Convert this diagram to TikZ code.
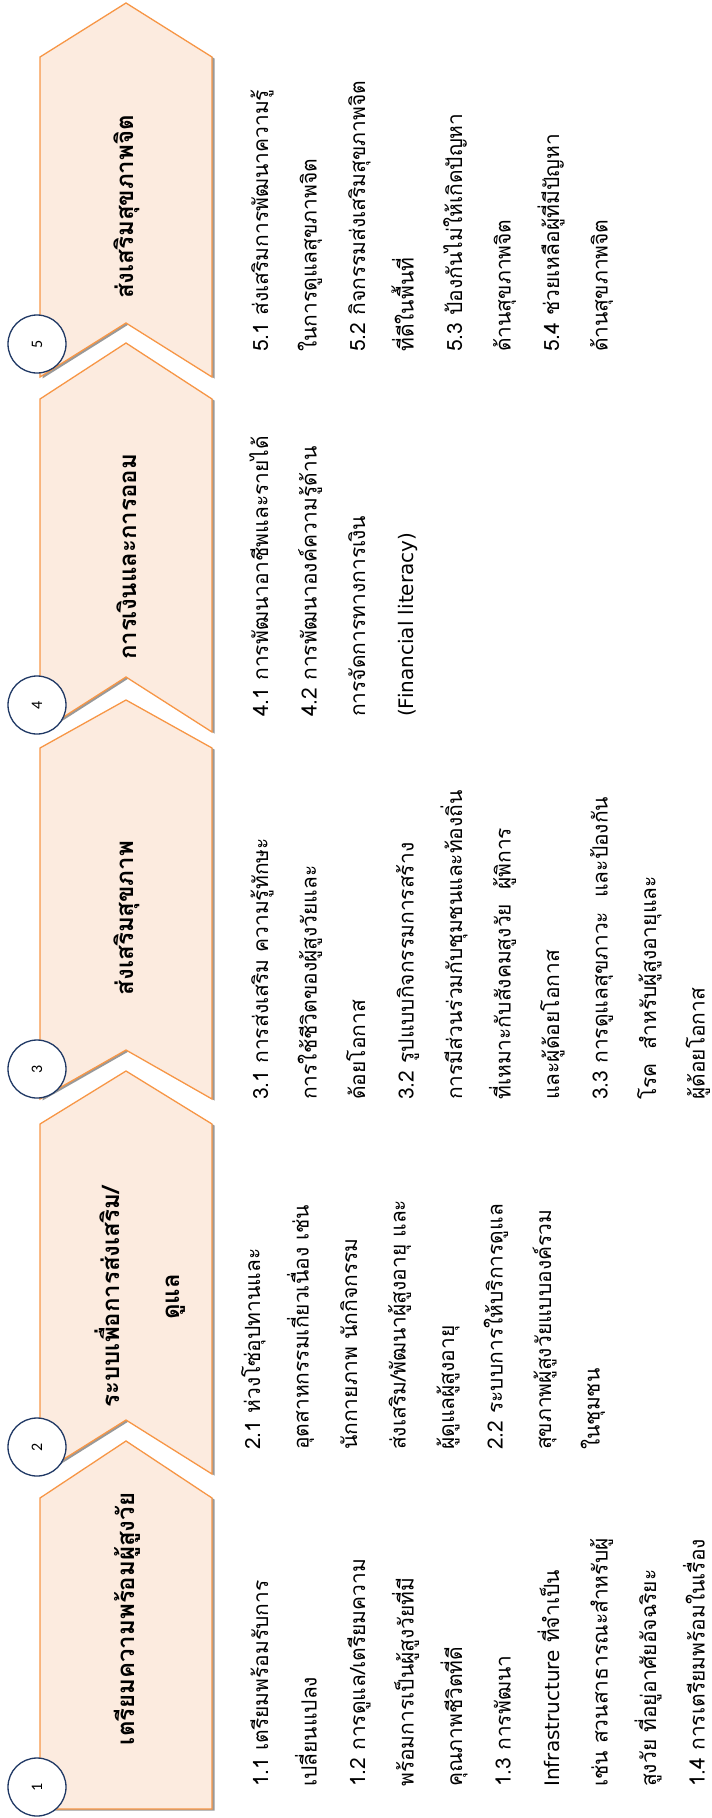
\documentclass[tikz,border=0pt]{standalone}
\usepackage{fontspec}
\newfontfamily\thai[Script=Thai]{Loma}
\newfontfamily\numfont{Carlito}
\newfontfamily\latfont{DejaVu Sans}
\newcommand{\lat}[1]{{\latfont\fontsize{20}{26}\selectfont #1}}
\definecolor{bfill}{HTML}{FCEBDF}
\definecolor{bline}{HTML}{F79646}
\definecolor{cnavy}{HTML}{1F3864}
\begin{document}
\begin{tikzpicture}[x=1pt,y=-1pt,
  banner/.style={fill=bfill, draw=bline, line width=1.3pt, line join=miter},
  shade/.style={fill=black!40, draw=none},
  num/.style={circle, draw=cnavy, line width=1.3pt, fill=white, minimum size=58pt, inner sep=0pt, font=\numfont\fontsize{16}{16}\selectfont, rotate=90},
  ttl/.style={rotate=90, inner sep=0pt, font=\thai\bfseries\fontsize{24}{60}\selectfont, align=center},
  item/.style={rotate=90, anchor=base west, inner sep=0pt, font=\thai\fontsize{21}{26}\selectfont}]
\useasboundingbox (0,0) rectangle (712,1818);
% shadows
\begin{scope}[shift={(2.5,1.5)}]
\fill[shade] (40,1809) -- (212,1809) -- (212,1498) -- (126,1441) -- (40,1498) -- cycle;
\fill[shade] (40,1474) -- (126,1420) -- (212,1474) -- (212,1124) -- (126,1071) -- (40,1124) -- cycle;
\fill[shade] (40,1099) -- (126,1050) -- (212,1099) -- (212,748) -- (126,700) -- (40,748) -- cycle;
\fill[shade] (40,732) -- (126,677) -- (212,732) -- (212,399) -- (126,343) -- (40,399) -- cycle;
\fill[shade] (40,377) -- (126,323) -- (212,377) -- (212,57) -- (126,3) -- (40,57) -- cycle;
\end{scope}
% banners
\draw[banner] (40,1809) -- (212,1809) -- (212,1498) -- (126,1441) -- (40,1498) -- cycle;
\draw[banner] (40,1474) -- (126,1420) -- (212,1474) -- (212,1124) -- (126,1071) -- (40,1124) -- cycle;
\draw[banner] (40,1099) -- (126,1050) -- (212,1099) -- (212,748) -- (126,700) -- (40,748) -- cycle;
\draw[banner] (40,732) -- (126,677) -- (212,732) -- (212,399) -- (126,343) -- (40,399) -- cycle;
\draw[banner] (40,377) -- (126,323) -- (212,377) -- (212,57) -- (126,3) -- (40,57) -- cycle;
% titles
\node[ttl] (t1) at (127,1619) {เตรียมความพร้อมผู้สูงวัย};
\node[ttl] (t2) at (140,1297) {ระบบเพื่อการส่งเสริม/\\ดูแล};
\node[ttl] (t3) at (127,918) {ส่งเสริมสุขภาพ};
\node[ttl] (t4) at (127,557) {การเงินและการออม};
\node[ttl] (t5) at (127,207) {ส่งเสริมสุขภาพจิต};
% circles
\node[num] (n1) at (37,1787) {1};
\node[num] (n2) at (37,1447) {2};
\node[num] (n3) at (37,1069) {3};
\node[num] (n4) at (37,705) {4};
\node[num] (n5) at (37,344) {5};
% lists
\foreach \t [count=\i from 0] in {1.1 เตรียมพร้อมรับการ, เปลี่ยนแปลง, 1.2 การดูแล/เตรียมความ, พร้อมการเป็นผู้สูงวัยที่มี, คุณภาพชีวิตที่ดี, 1.3 การพัฒนา, \lat{Infrastructure} ที่จำเป็น, เช่น สวนสาธารณะสำหรับผู้, สูงวัย ที่อยู่อาศัยอัจฉริยะ, 1.4 การเตรียมพร้อมในเรื่อง}
  \node[item] (a\i) at ({268+48.5*\i},1787) {\t};
\foreach \t [count=\i from 0] in {2.1 ห่วงโซ่อุปทานและ, อุตสาหกรรมเกี่ยวเนื่อง เช่น, นักกายภาพ นักกิจกรรม, ส่งเสริม/พัฒนาผู้สูงอายุ และ, ผู้ดูแลผู้สูงอายุ, 2.2 ระบบการให้บริการดูแล, สุขภาพผู้สูงวัยแบบองค์รวม, ในชุมชน}
  \node[item] (b\i) at ({260+48.5*\i},1450) {\t};
\foreach \t [count=\i from 0] in {3.1 การส่งเสริม ความรู้ทักษะ, การใช้ชีวิตของผู้สูงวัยและ, ด้อยโอกาส, 3.2 รูปแบบกิจกรรมการสร้าง, การมีส่วนร่วมกับชุมชนและท้องถิ่น, ที่เหมาะกับสังคมสูงวัย~ ผู้พิการ, และผู้ด้อยโอกาส, 3.3 การดูแลสุขภาวะ~ และป้องกัน, โรค~ สำหรับผู้สูงอายุและ, ผู้ด้อยโอกาส}
  \node[item] (c\i) at ({268+48.5*\i},1100) {\t};
\foreach \t [count=\i from 0] in {4.1 การพัฒนาอาชีพและรายได้, 4.2 การพัฒนาองค์ความรู้ด้าน, การจัดการทางการเงิน, \lat{(Financial literacy)}}
  \node[item] (d\i) at ({268+48.5*\i},717) {\t};
\foreach \t [count=\i from 0] in {5.1 ส่งเสริมการพัฒนาความรู้, ในการดูแลสุขภาพจิต, 5.2 กิจกรรมส่งเสริมสุขภาพจิต, ที่ดีในพื้นที่, 5.3 ป้องกันไม่ให้เกิดปัญหา, ด้านสุขภาพจิต, 5.4 ช่วยเหลือผู้ที่มีปัญหา, ด้านสุขภาพจิต}
  \node[item] (e\i) at ({268+48.5*\i},352) {\t};
\end{tikzpicture}
\end{document}
